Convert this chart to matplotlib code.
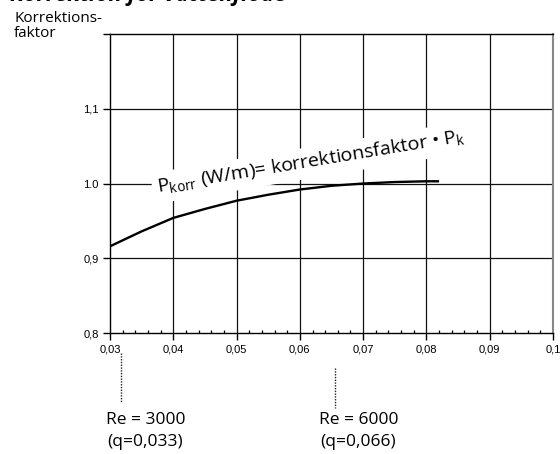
import numpy as np
import matplotlib
matplotlib.use("Agg")
import matplotlib.pyplot as plt
from matplotlib.ticker import MultipleLocator, FixedLocator

# --- Data ---
flow = [0.030, 0.035, 0.040, 0.045, 0.050, 0.055, 0.060, 0.065, 0.070, 0.075, 0.080, 0.082]
factor = [0.916, 0.936, 0.954, 0.966, 0.977, 0.985, 0.992, 0.997, 1.000, 1.002, 1.003, 1.003]

x_ticks = [0.03, 0.04, 0.05, 0.06, 0.07, 0.08, 0.09, 0.10]
x_labels = ["0,03", "0,04", "0,05", "0,06", "0,07", "0,08", "0,09", "0,1"]
y_ticks = [0.8, 0.9, 1.0, 1.1, 1.2]
y_labels = ["0,8", "0,9", "1.0", "1,1", ""]

re_marks = [0.0317, 0.0655]
re_text = ["Re = 3000", "Re = 6000"]
q_text = ["(q=0,033)", "(q=0,066)"]

plt.rcParams['mathtext.fontset'] = 'custom'
plt.rcParams['mathtext.rm'] = 'Open Sans'
txt_font = 'Open Sans'
tick_font = 'Liberation Sans'

fig = plt.figure(figsize=(5.6, 4.54), dpi=100)
ax = fig.add_axes([0.1964, 0.2665, 0.7911, 0.6585])

ax.set_xlim(0.03, 0.10)
ax.set_ylim(0.8, 1.2)

# grid
for xv in x_ticks[1:-1]:
    ax.axvline(xv, color='#111111', lw=0.9, zorder=1)
for yv in y_ticks[1:-1]:
    ax.axhline(yv, color='#111111', lw=0.9, zorder=1)

# curve
ax.plot(flow, factor, color='black', lw=1.7, zorder=4, solid_capstyle='butt')

# formula label with white box
ax.text(0.0376, 0.987,
        r"P$_{\mathregular{korr}}$ (W/m)= korrektionsfaktor • P$_{\mathregular{k}}$",
        family=txt_font, fontsize=14, rotation=9.4, rotation_mode='anchor',
        ha='left', va='baseline', zorder=3,
        bbox=dict(boxstyle='square,pad=0.25', fc='white', ec='none'))

# spines
for s in ['left', 'bottom', 'top']:
    ax.spines[s].set_color('black')
    ax.spines[s].set_linewidth(1.0)
ax.spines['right'].set_color('#888888')
ax.spines['right'].set_linewidth(1.5)

ax.xaxis.set_major_locator(FixedLocator(x_ticks))
ax.set_xticklabels(x_labels, family=tick_font, fontsize=8)
ax.xaxis.set_minor_locator(MultipleLocator(0.002))
ax.yaxis.set_major_locator(FixedLocator(y_ticks))
ax.set_yticklabels(y_labels, family=tick_font, fontsize=8)
ax.tick_params(axis='both', which='major', direction='out', length=5, width=1.0, pad=3)
ax.tick_params(axis='x', which='minor', direction='in', length=2.5, width=0.9)
ax.tick_params(axis='y', which='minor', left=False)

# Reynolds marks below the axis
trans = ax.get_xaxis_transform()
dot_y = [(-0.067, -0.231), (-0.117, -0.251)]
for xv, (y0, y1), r, q in zip(re_marks, dot_y, re_text, q_text):
    ax.plot([xv, xv], [y0, y1], transform=trans, clip_on=False,
            color='#222222', lw=1.0, linestyle=(0, (1, 1)))
    ax.text(xv - 0.0024, -0.291, r, transform=trans, family=txt_font,
            fontsize=12.5, ha='left', va='center')
    ax.text(xv - 0.0022, -0.365, q, transform=trans, family=txt_font,
            fontsize=12.5, ha='left', va='center')

# axis title and partly clipped heading
fig.text(14 / 560, 1 - 22 / 454, "Korrektions-", family=txt_font,
         fontsize=11, ha='left', va='baseline')
fig.text(14 / 560, 1 - 37 / 454, "faktor", family=txt_font,
         fontsize=11, ha='left', va='baseline')
fig.text(10 / 560, 1 - 1 / 454, "Korrektion för vattenflöde", family=txt_font,
         fontsize=16, fontweight='bold', style='italic', ha='left', va='baseline')

fig.savefig("out.png", dpi=100)
